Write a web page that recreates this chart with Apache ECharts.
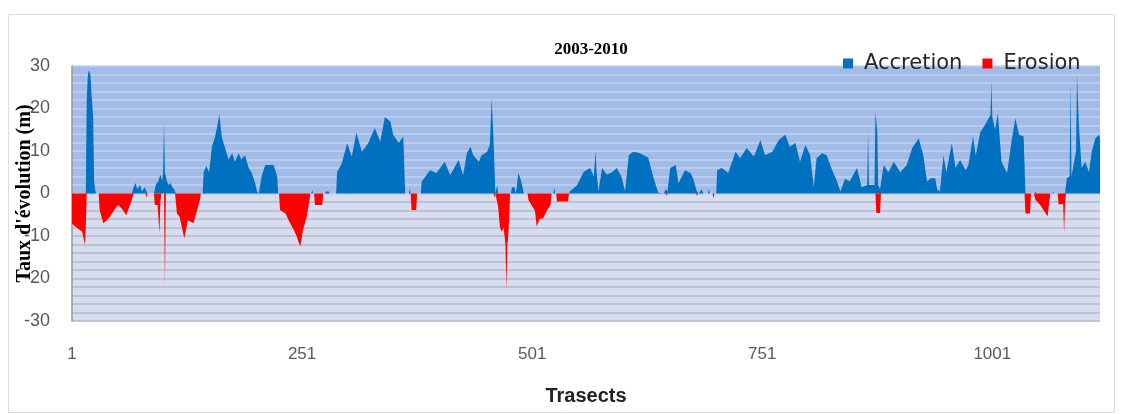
<!DOCTYPE html>
<html>
<head>
<meta charset="utf-8">
<script src="https://cdn.jsdelivr.net/npm/echarts@6/dist/echarts.min.js"></script>
<style>html,body{margin:0;padding:0;background:#fff}#c{width:1123px;height:414px}</style>
</head>
<body>
<div id="c"></div>
<script>
// ---- data (transect, value in m) ----
const xTicks = [1, 251, 501, 751, 1001];
const yTicks = [-30, -20, -10, 0, 10, 20, 30];
const accretion = [
[16,0],[17,22],[18,27],[19,29],[20,29],[21,28],[22,24],[23,21],[24,18],[25,3],[26,1],[27,0],
[66,0],[68,1.5],[70,2.5],[72,1],[75,2],[77,0.5],[80,1.5],[83,0],
[90,0],[92,2],[95,3],[97,4.5],[99,3],[100,5],[101,17],[102,5],[104,3],[106,2],[108,2.5],[110,1.5],[112,1],[114,0],
[143,0],[144,5],[147,6.5],[150,5],[153,11],[156,13],[159,16],[161,18.6],[164,13],[167,11],[171,8],[175,9.5],[178,7.5],[182,9.5],[185,8],[189,9],[193,6],[196,5],[200,2.5],[202,0.5],[204,0],
[206,0],[207,4],[211,6.7],[220,6.7],[224,4],[225,0],
[261,0],[262,0.8],[263,0],
[276,0],[277,0.5],[280,0.5],[281,0],
[288,0],[289,5],[294,7],[300,11.8],[305,8.7],[310,14.3],[316,9.8],[323,11.9],[330,15.4],[336,12.2],[341,18],[347,16.9],[350,13.8],[356,11.9],[361,13.4],[363,0],
[367,0],[368,1],[369,0],
[380,0],[381,2.8],[390,5.5],[397,4.8],[406,7.5],[412,4.3],[421,7.9],[426,4.3],[430,9.5],[434,11],[437,9],[443,7.5],[446,9],[452,9.8],[455,11.4],[457,22.4],[459,13],[461,0],
[462,0],[463,2],[464,0],
[478,0],[479,1.5],[482,1.5],[483,0],[484,1],[486,4.8],[489,3],[491,1],[492,0],
[524,0],[525,1.5],[526,0],
[541,0],[542,0.5],[550,2],[557,5.1],[564,6],[568,4],[570,10.2],[571,5],[573,0.5],[577,6],[582,4.5],[588,5],[593,6],[598,4],[602,0.5],[606,9],[611,9.8],[618,9.5],[627,8.5],[633,3.6],[638,0.2],[640,0],
[644,0],[646,1],[648,0.5],[651,6],[657,6.7],[660,2.4],[667,5.5],[673,4.8],[676,3.5],[680,0.5],[682,0],
[684,0],[685,1],[687,0],[692,0],[693,1],[694,0],
[701,0],[702,5.5],[707,6],[714,4.8],[722,9.8],[727,8.3],[734,10.7],[742,8.7],[749,12.6],[754,9],[762,9.8],[769,12.6],[776,13.8],[781,11],[787,11.9],[792,7.5],[798,11.4],[803,9],[807,1.6],[810,8.3],[816,9.5],[821,9],[827,5.5],[832,3],[836,0.5],[841,3.5],[846,2.8],[854,6],[859,1.5],[865,2],[866,14.5],[867,2],[870,2],[873,2],[874,19.2],[876,14.5],[877,2],[879,1],[883,6.7],[888,5],[894,7.5],[901,5],[908,6.7],[914,10.7],[921,13],[926,9],[930,2.8],[934,3.6],[939,3.6],[941,1],[944,0.5],[948,9],[951,5],[957,11.9],[961,6],[966,7.9],[972,5.5],[975,6.7],[980,13.4],[983,9],[988,14.5],[993,16.1],[999,18.5],[1000,26.3],[1001,18],[1004,15],[1007,18.9],[1011,7.5],[1017,4.8],[1022,12.4],[1026,17.7],[1030,13.8],[1035,13.4],[1036,13],[1037,0],
[1047,0],[1048,0.5],[1049,0],[1066,0],[1067,0.5],[1068,0],
[1080,0],[1082,3.6],[1085,4],[1086,26],[1087,4],[1089,4.3],[1092,10],[1093,27.9],[1095,16.3],[1098,6],[1102,7.5],[1106,5],[1109,9.8],[1113,13],[1117,13.8],[1118,13]
];
const erosion = [
[1,-7],[3,-7.5],[6,-8],[9,-8.5],[12,-9],[14,-11],[15,-12],[16,-8],[17,0],
[30,0],[31,-3.9],[35,-7],[39,-6.3],[42,-5.5],[48,-3.5],[51,-2.7],[55,-3.5],[60,-5.1],[66,-1.5],[68,0],
[81,0],[82,-1],[83,0],
[90,0],[91,-2.7],[94,-2.7],[96,-9.4],[97,-2],[98,0],
[101,0],[102,-21.5],[103,0],
[113,0],[115,-4.7],[118,-5.5],[123,-10.5],[127,-6.3],[133,-7],[137,-3.9],[140,-1.5],[141,0],
[226,0],[227,-3.9],[233,-4.7],[238,-7],[242,-8.6],[245,-10],[249,-12.5],[252,-8.6],[256,-5.5],[259,-1.5],[260,0],
[264,0],[265,-2.7],[273,-2.7],[274,0],
[369,0],[370,-3.9],[375,-3.9],[376,0],
[459,0],[460,-1],[461,0],
[463,0],[464,-3],[466,-8],[468,-9],[470,-8],[472,-12],[473,-23],[474,-12],[475,-10],[476,-6],[477,0],
[496,0],[497,-1.5],[501,-3],[504,-4],[506,-7.8],[509,-6],[513,-5.8],[517,-4],[521,-2.7],[522,0],
[527,0],[528,-1.9],[540,-1.9],[541,0],
[646,0],[647,-0.5],[648,0],
[679,0],[680,-0.5],[681,0],
[697,0],[698,-1.2],[699,0],
[874,0],[875,-4.6],[879,-4.6],[880,0],
[1036,0],[1037,-4.7],[1042,-4.7],[1043,0],
[1046,0],[1048,-1.5],[1053,-2.7],[1057,-4],[1059,-4.7],[1061,-5.4],[1063,-2],[1064,0],
[1072,0],[1073,-2.5],[1078,-2.5],[1079,-9.4],[1080,-2.5],[1081,0]
];
const maxTransect = 1118;

// ---- styles ----
const BLUE = '#0070C0', RED = '#FF0000';
const lineColors = [];
for (let v = yTicks[0]; v <= yTicks[yTicks.length - 1]; v += 2) {
  lineColors.push(v < 0 ? '#b3b9cb' : (v === 0 ? '#c6cee2' : '#c2d2ef'));
}
const areaColors = [];
for (let i = 0; i < yTicks.length - 1; i++) {
  areaColors.push(yTicks[i] < 0 ? '#d7ddee' : '#a3bce7');
}

const chart = echarts.init(document.getElementById('c'), null, {renderer: 'canvas'});
chart.setOption({
  animation: false,
  backgroundColor: '#ffffff',
  title: {
    text: '2003-2010', left: 586, top: 36, textAlign: 'center',
    textStyle: {fontFamily: 'Liberation Serif', fontWeight: 'bold', fontSize: 17, color: '#000'}
  },
  legend: {
    data: ['Accretion', 'Erosion'], left: 838, top: 48, icon: 'rect',
    itemWidth: 10, itemHeight: 10, itemGap: 20,
    textStyle: {fontFamily: 'DejaVu Sans', fontSize: 21, color: '#262626', padding: [0, 0, 0, 6]}
  },
  graphic: [{
    type: 'rect', silent: true, z: -10,
    shape: {x: 8.5, y: 14.5, width: 1106, height: 398},
    style: {fill: 'none', stroke: '#dcdcdc', lineWidth: 1}
  }],
  grid: {left: 72, right: 23, top: 66, bottom: 93, outerBoundsMode: 'none'},
  xAxis: {
    type: 'value', min: 1, max: maxTransect,
    name: 'Trasects', nameLocation: 'middle', nameGap: 65, nameMoveOverlap: false,
    nameTextStyle: {fontFamily: 'Liberation Sans', fontWeight: 'bold', fontSize: 20, color: '#222'},
    axisLine: {show: false}, axisTick: {show: false}, splitLine: {show: false},
    axisLabel: {customValues: xTicks, margin: 25, fontFamily: 'Liberation Sans', fontSize: 17, color: '#595959',
      formatter: function (v) { return String(v); }}
  },
  yAxis: [{
    type: 'value', min: yTicks[0], max: yTicks[yTicks.length - 1], interval: 10,
    name: "Taux d'évolution (m)", nameLocation: 'middle', nameRotate: 90, nameGap: 37, nameMoveOverlap: false,
    nameTextStyle: {fontFamily: 'Liberation Serif', fontWeight: 'bold', fontSize: 20, color: '#000'},
    axisLine: {show: true, lineStyle: {color: '#9a9a9a', width: 1.5}},
    axisTick: {show: false},
    axisLabel: {margin: 22, fontFamily: 'Liberation Sans', fontSize: 18, color: '#595959', padding: [5, 0, 0, 0]},
    splitLine: {show: false},
    splitArea: {show: true, areaStyle: {color: areaColors}}
  }, {
    type: 'value', min: yTicks[0], max: yTicks[yTicks.length - 1], interval: 2,
    position: 'left',
    axisLine: {show: false}, axisTick: {show: false}, axisLabel: {show: false},
    splitLine: {show: true, lineStyle: {color: lineColors, width: 1.5}}
  }],
  series: [{
    name: 'Accretion', type: 'line', data: accretion, yAxisIndex: 0,
    symbol: 'none', silent: true, lineStyle: {width: 0, color: BLUE},
    itemStyle: {color: BLUE}, areaStyle: {color: BLUE, opacity: 1}, z: 3
  }, {
    name: 'Erosion', type: 'line', data: erosion, yAxisIndex: 0,
    symbol: 'none', silent: true, lineStyle: {width: 0, color: RED},
    itemStyle: {color: RED}, areaStyle: {color: RED, opacity: 1}, z: 3
  }]
});
</script>
</body>
</html>
